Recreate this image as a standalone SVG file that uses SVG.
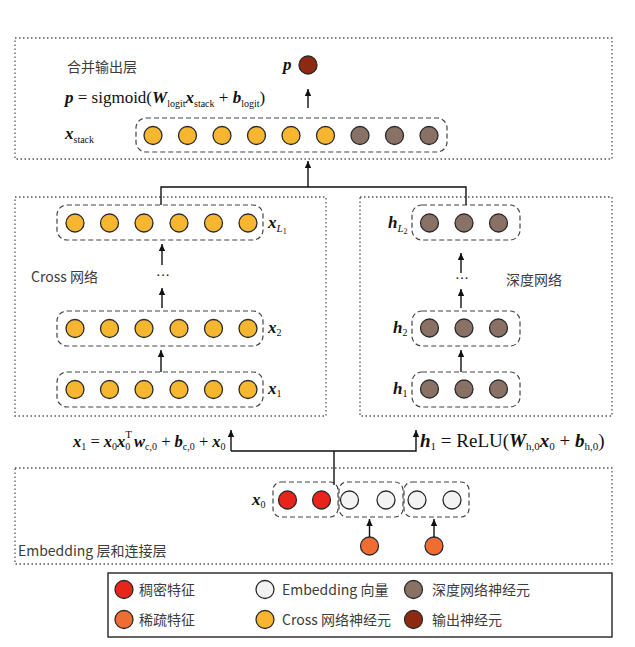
<svg xmlns="http://www.w3.org/2000/svg" width="635" height="647" viewBox="0 0 635 647">
<defs>
<style>
.frame{fill:none;stroke:#555;stroke-width:1.3;stroke-dasharray:1.5 2.5}
.row{fill:none;stroke:#444;stroke-width:1.2;stroke-dasharray:5 3}
.c{fill:#F6B62F;stroke:#2a2a2a;stroke-width:1.3}
.d{fill:#8A7166;stroke:#2a2a2a;stroke-width:1.3}
.o{fill:#8E2A12;stroke:#2a2a2a;stroke-width:1.3}
.r{fill:#E8241B;stroke:#2a2a2a;stroke-width:1.3}
.s{fill:#EF6D33;stroke:#2a2a2a;stroke-width:1.3}
.w{fill:#F3F3F3;stroke:#2a2a2a;stroke-width:1.3}
.ln{fill:none;stroke:#111;stroke-width:1.4}
.ar{fill:none;stroke:#111;stroke-width:1.4;marker-end:url(#ah)}
.t{font-family:"Noto Sans CJK SC","Noto Sans",sans-serif;font-size:14px;fill:#3c3c3c;font-weight:400}
.m{font-family:"Liberation Serif","Times New Roman",serif;fill:#111}
.v{font-weight:bold;font-style:italic}
</style>
<marker id="ah" markerUnits="userSpaceOnUse" markerWidth="8" markerHeight="8" refX="7" refY="4" orient="auto">
<path d="M0,0.8 L7,4 L0,7.2 z" fill="#111"/>
</marker>
</defs>
<rect width="635" height="647" fill="#fff"/>

<g id="output-layer">
<rect class="frame" x="15" y="38" width="597" height="121"/>
<text class="t" x="67" y="72">合并输出层</text>
<text class="m v" x="283" y="70" font-size="17">p</text>
<circle class="o" cx="308" cy="65" r="9"/>
<text class="m" x="65" y="103" font-size="17"><tspan class="v">p</tspan> = sigmoid(<tspan class="v">W</tspan><tspan font-size="10" dy="4">logit</tspan><tspan class="v" dy="-4">x</tspan><tspan font-size="10" dy="4">stack</tspan><tspan dy="-4"> + </tspan><tspan class="v">b</tspan><tspan font-size="10" dy="4">logit</tspan><tspan dy="-4">)</tspan></text>
<text class="m" x="65" y="139" font-size="17"><tspan class="v">x</tspan><tspan font-size="10" dy="4">stack</tspan></text>
</g>

<g id="stack-row">
<rect class="row" x="136" y="118" width="311" height="34" rx="10"/>
<circle class="c" cx="153" cy="135.5" r="9"/>
<circle class="c" cx="187.5" cy="135.5" r="9"/>
<circle class="c" cx="222" cy="135.5" r="9"/>
<circle class="c" cx="256.5" cy="135.5" r="9"/>
<circle class="c" cx="291" cy="135.5" r="9"/>
<circle class="c" cx="325.5" cy="135.5" r="9"/>
<circle class="d" cx="360" cy="135.5" r="9"/>
<circle class="d" cx="394.5" cy="135.5" r="9"/>
<circle class="d" cx="429" cy="135.5" r="9"/>
</g>

<g id="cross-network">
<rect class="frame" x="15" y="197" width="311" height="219"/>
<text class="t" x="31" y="282">Cross 网络</text>
<text class="m" x="156" y="280" font-size="14">···</text>
<g id="cross-xL1">
<rect class="row" x="57" y="205" width="206" height="35" rx="10"/>
<circle class="c" cx="75" cy="223" r="9"/><circle class="c" cx="109.5" cy="223" r="9"/><circle class="c" cx="144" cy="223" r="9"/><circle class="c" cx="179" cy="223" r="9"/><circle class="c" cx="213.5" cy="223" r="9"/><circle class="c" cx="248" cy="223" r="9"/>
<text class="m" x="268" y="228" font-size="17"><tspan class="v">x</tspan><tspan font-size="11" font-style="italic" dy="4">L</tspan><tspan font-size="8" dy="2">1</tspan></text>
</g>
<g id="cross-x2">
<rect class="row" x="57" y="311" width="206" height="35" rx="10"/>
<circle class="c" cx="75" cy="328.5" r="9"/><circle class="c" cx="109.5" cy="328.5" r="9"/><circle class="c" cx="144" cy="328.5" r="9"/><circle class="c" cx="179" cy="328.5" r="9"/><circle class="c" cx="213.5" cy="328.5" r="9"/><circle class="c" cx="248" cy="328.5" r="9"/>
<text class="m" x="268" y="333" font-size="17"><tspan class="v">x</tspan><tspan font-size="10" dy="3">2</tspan></text>
</g>
<g id="cross-x1">
<rect class="row" x="57" y="372" width="206" height="35" rx="10"/>
<circle class="c" cx="75" cy="389.5" r="9"/><circle class="c" cx="109.5" cy="389.5" r="9"/><circle class="c" cx="144" cy="389.5" r="9"/><circle class="c" cx="179" cy="389.5" r="9"/><circle class="c" cx="213.5" cy="389.5" r="9"/><circle class="c" cx="248" cy="389.5" r="9"/>
<text class="m" x="268" y="394" font-size="17"><tspan class="v">x</tspan><tspan font-size="10" dy="3">1</tspan></text>
</g>
</g>

<g id="deep-network">
<rect class="frame" x="360" y="197" width="252" height="219"/>
<text class="t" x="506" y="285">深度网络</text>
<text class="m" x="455" y="283" font-size="14">···</text>
<g id="deep-hL2">
<rect class="row" x="412" y="205" width="108" height="35" rx="10"/>
<circle class="d" cx="429.5" cy="223" r="9"/><circle class="d" cx="464" cy="223" r="9"/><circle class="d" cx="498.5" cy="223" r="9"/>
<text class="m" x="388" y="228" font-size="17"><tspan class="v">h</tspan><tspan font-size="11" font-style="italic" dy="4">L</tspan><tspan font-size="8" dy="2">2</tspan></text>
</g>
<g id="deep-h2">
<rect class="row" x="412" y="311" width="108" height="35" rx="10"/>
<circle class="d" cx="429.5" cy="328" r="9"/><circle class="d" cx="464" cy="328" r="9"/><circle class="d" cx="498.5" cy="328" r="9"/>
<text class="m" x="393" y="333" font-size="17"><tspan class="v">h</tspan><tspan font-size="10" dy="3">2</tspan></text>
</g>
<g id="deep-h1">
<rect class="row" x="412" y="372" width="108" height="35" rx="10"/>
<circle class="d" cx="429.5" cy="389" r="9"/><circle class="d" cx="464" cy="389" r="9"/><circle class="d" cx="498.5" cy="389" r="9"/>
<text class="m" x="393" y="394" font-size="17"><tspan class="v">h</tspan><tspan font-size="10" dy="3">1</tspan></text>
</g>
</g>

<g id="formulas">
<text class="m" x="73" y="447" font-size="16.5"><tspan class="v">x</tspan><tspan font-size="10" dy="3">1</tspan><tspan dy="-3"> = </tspan><tspan class="v">x</tspan><tspan font-size="10" dy="3">0</tspan><tspan class="v" dy="-3">x</tspan><tspan font-size="10" dy="3">0</tspan><tspan font-size="11" dx="-5" dy="-12">T</tspan><tspan class="v" dx="2" dy="9">w</tspan><tspan font-size="10" dy="3">c,0</tspan><tspan dy="-3"> + </tspan><tspan class="v">b</tspan><tspan font-size="10" dy="3">c,0</tspan><tspan dy="-3"> + </tspan><tspan class="v">x</tspan><tspan font-size="10" dy="3">0</tspan></text>
<text class="m" x="420" y="447" font-size="19"><tspan class="v">h</tspan><tspan font-size="11" dy="3">1</tspan><tspan dy="-3"> = ReLU(</tspan><tspan class="v">W</tspan><tspan font-size="11" dy="3">h,0</tspan><tspan class="v" dy="-3">x</tspan><tspan font-size="11" dy="3">0</tspan><tspan dy="-3"> + </tspan><tspan class="v">b</tspan><tspan font-size="11" dy="3">h,0</tspan><tspan dy="-3">)</tspan></text>
</g>

<g id="embedding-layer">
<rect class="frame" x="15" y="468" width="597" height="96"/>
<text class="t" x="18" y="556">Embedding 层和连接层</text>
<text class="m" x="252" y="505" font-size="17"><tspan class="v">x</tspan><tspan font-size="10" dy="3">0</tspan></text>
<g id="dense-group">
<rect class="row" x="273" y="482" width="65" height="35" rx="8"/>
<circle class="r" cx="287.5" cy="500" r="9"/><circle class="r" cx="321.5" cy="500" r="9"/>
</g>
<g id="emb-group-1">
<rect class="row" x="339" y="482" width="64" height="35" rx="8"/>
<circle class="w" cx="349.5" cy="500" r="9"/><circle class="w" cx="386" cy="500" r="9"/>
</g>
<g id="emb-group-2">
<rect class="row" x="404" y="482" width="65" height="35" rx="8"/>
<circle class="w" cx="417" cy="500" r="9"/><circle class="w" cx="452" cy="500" r="9"/>
</g>
<circle id="sparse-1" class="s" cx="369.5" cy="546" r="9"/>
<circle id="sparse-2" class="s" cx="434" cy="546" r="9"/>
</g>

<g id="connectors">
<path class="ar" d="M308,108 V89"/>
<path class="ln" d="M161,205 V187 H466 V205"/>
<path class="ar" d="M308,187 V161"/>
<path class="ar" d="M162,265 V244"/>
<path class="ar" d="M162,308 V288"/>
<path class="ar" d="M161,372 V350"/>
<path class="ar" d="M461,273 V253"/>
<path class="ar" d="M461,308 V289"/>
<path class="ar" d="M461,372 V350"/>
<path class="ln" d="M334,485 V451"/>
<path class="ar" d="M231,451 H416 V430"/>
<path class="ar" d="M231,451 V430"/>
<path class="ar" d="M369.5,537 V519"/>
<path class="ar" d="M434,537 V519"/>
</g>

<g id="legend">
<rect x="108" y="573" width="504" height="64" fill="none" stroke="#333" stroke-width="1.5"/>
<circle class="r" cx="124" cy="589.5" r="9"/><text class="t" x="139" y="594.5">稠密特征</text>
<circle class="s" cx="124" cy="619.5" r="9"/><text class="t" x="139" y="624.5">稀疏特征</text>
<circle class="w" cx="265" cy="589.5" r="9"/><text class="t" x="282" y="594.5">Embedding 向量</text>
<circle class="c" cx="265" cy="619.5" r="9"/><text class="t" x="282" y="624.5">Cross 网络神经元</text>
<circle class="d" cx="413.5" cy="589.5" r="9"/><text class="t" x="432" y="594.5">深度网络神经元</text>
<circle class="o" cx="413.5" cy="619.5" r="9"/><text class="t" x="432" y="624.5">输出神经元</text>
</g>
</svg>
